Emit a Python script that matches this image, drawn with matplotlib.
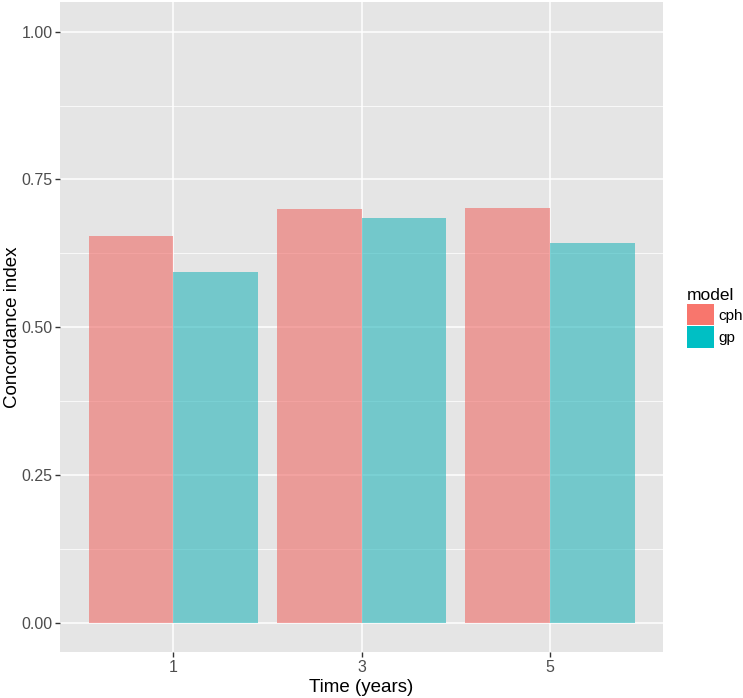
import matplotlib.pyplot as plt
import numpy as np
from matplotlib.patches import Patch

plt.rcParams['font.family'] = ['Liberation Sans', 'DejaVu Sans']

times = ['1', '3', '5']
models = ['cph', 'gp']
cph = [0.655, 0.700, 0.702]
gp = [0.594, 0.685, 0.642]

# ggplot default hues; bar fill is drawn with alpha over the grey panel
key_colors = {'cph': '#F8766D', 'gp': '#00BFC4'}
bar_colors = {'cph': '#EF6A65', 'gp': '#27B6BB'}

W, H = 743, 698
fig = plt.figure(figsize=(W / 100, H / 100), dpi=100)
ax = fig.add_axes([60.3 / W, 1 - 652.2 / H, (662.9 - 60.3) / W, (652.2 - 2.2) / H])
ax.set_facecolor('#E5E5E5')

x = np.arange(len(times))
w = 0.45
for i, (m, vals) in enumerate(zip(models, [cph, gp])):
    ax.bar(x + (i - 0.5) * w, vals, width=w, color=bar_colors[m], alpha=0.6,
           zorder=3, linewidth=0)

ax.set_xlim(-0.6, 2.6)
ax.set_ylim(-0.05, 1.05)
ax.set_xticks(x)
ax.set_xticklabels(times)
ax.set_yticks([0, 0.25, 0.5, 0.75, 1.0])
ax.set_yticklabels(['0.00', '0.25', '0.50', '0.75', '1.00'])
ax.set_yticks([0.125, 0.375, 0.625, 0.875], minor=True)

ax.grid(True, which='major', color='white', linewidth=1.1, zorder=1)
ax.grid(True, which='minor', axis='y', color='white', linewidth=0.55, zorder=1)
ax.set_axisbelow(True)
for s in ax.spines.values():
    s.set_visible(False)

ax.tick_params(which='major', length=3.5, width=1, color='#333333',
               labelcolor='#4D4D4D', labelsize=11.5, pad=2)
ax.tick_params(which='minor', length=0)

ax.set_xlabel('Time (years)', fontsize=13.5, labelpad=3)
ax.set_ylabel('Concordance index', fontsize=13.5)
ax.yaxis.set_label_coords(21 / W, 1 - 327 / H, transform=fig.transFigure)

handles = [Patch(facecolor=key_colors[m], edgecolor='none') for m in models]
leg = fig.legend(handles, models, title='model', loc='upper left',
                 bbox_to_anchor=(687 / W, 1 - 288 / H), frameon=False,
                 fontsize=11, title_fontsize=12.5, handlelength=1.75,
                 handleheight=1.8, handletextpad=0.3, labelspacing=0.05,
                 borderpad=0, borderaxespad=0)
leg._legend_box.align = 'left'

fig.savefig('out.png', dpi=100)
